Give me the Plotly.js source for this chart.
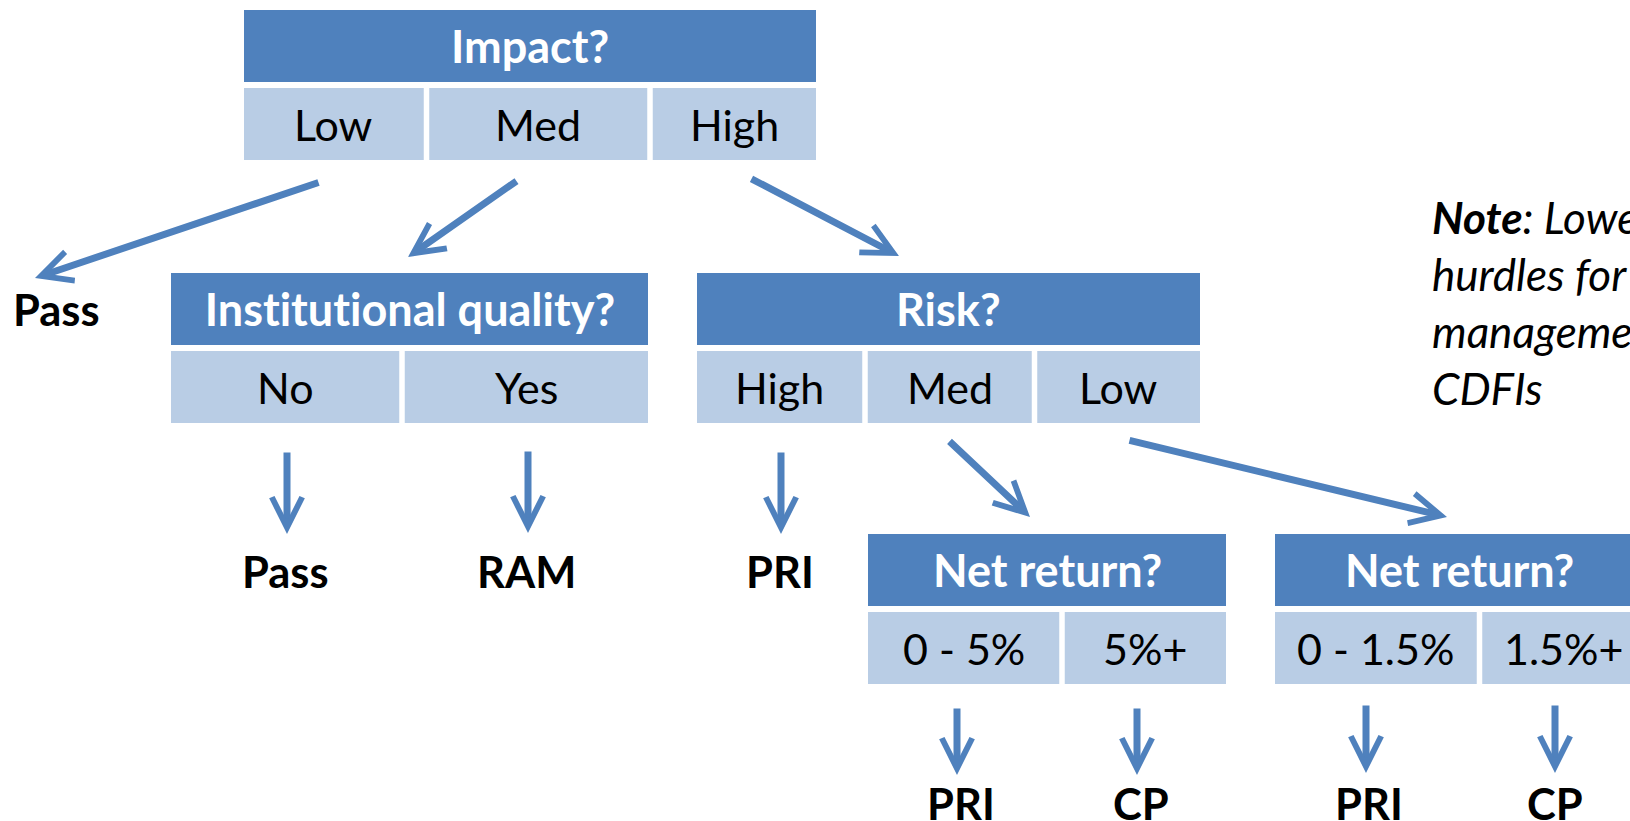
<!DOCTYPE html>
<html><head><meta charset="utf-8">
<script src="https://cdn.plot.ly/plotly-3.0.1.min.js"></script>
<style>
html,body{margin:0;padding:0;background:#fff;overflow:hidden}
.main-svg text{font-variant-ligatures:none;font-feature-settings:"liga" 0,"clig" 0;}
</style>
</head><body><div id="chart" style="width:1630px;height:821px"></div>
<script>
// ---------- content ----------
const questions = ['Impact?', 'Institutional quality?', 'Risk?', 'Net return?', 'Net return?'];
const answers = [['Low', 'Med', 'High'], ['No', 'Yes'], ['High', 'Med', 'Low'], ['0 - 5%', '5%+'], ['0 - 1.5%', '1.5%+']];
const outcomes = ['Pass', 'Pass', 'RAM', 'PRI', 'PRI', 'CP', 'PRI', 'CP'];
const noteLines = ['<b><i>Note</i></b><i>: Lower</i>', '<i>hurdles for</i>', '<i>management</i>', '<i>CDFIs</i>'];

// ---------- diagram geometry (pixel space) ----------
const W = 1630, H = 821;
const nodeGeom = [
  {top: 10,  edges: [244, 426.5, 650, 816]},
  {top: 273, edges: [171, 402, 648]},
  {top: 273, edges: [697, 865, 1034.5, 1200]},
  {top: 534, edges: [868, 1062, 1226]},
  {top: 534, edges: [1275, 1479.5, 1644]}
];
const outcomePos = [[56.5, 309], [285, 571], [526, 571], [779.5, 571], [961, 803], [1141, 803], [1369, 803], [1555, 803]];
const arrowGeom = [
  [320, 182, 35, 278], [518, 180, 408, 257], [750, 178, 899, 256],
  [287, 451, 287, 534], [528, 450, 528, 533], [781, 451, 781, 534],
  [948, 440, 1030, 517], [1128, 440, 1447, 517],
  [957, 707, 957, 775], [1137, 707, 1137, 775], [1366, 704, 1366, 773], [1555, 704, 1555, 773]
];
const noteX = 1430, noteBaselines = [233, 290, 347, 404];

const DARK = '#4F81BD', LIGHT = '#B9CDE5';
const HEAD_H = 72, GAP = 6, CELL_GAP = 5.5;
const FONT = 'Lato, "Open Sans", sans-serif';

const shapes = [];
const annotations = [];

questions.forEach((q, i) => {
  const g = nodeGeom[i];
  const e = g.edges;
  const x0 = e[0], x1 = e[e.length - 1];
  shapes.push({type: 'rect', xref: 'x', yref: 'y', x0: x0, x1: x1, y0: g.top, y1: g.top + HEAD_H,
    fillcolor: DARK, line: {width: 0}, layer: 'above'});
  annotations.push({xref: 'x', yref: 'y', x: (x0 + x1) / 2, y: g.top + HEAD_H / 2, text: q,
    showarrow: false, xanchor: 'center', yanchor: 'middle',
    font: {family: FONT, size: 45, color: '#FFFFFF', weight: 700}});
  const n = answers[i].length;
  answers[i].forEach((a, j) => {
    const cx0 = e[j] + (j > 0 ? CELL_GAP / 2 : 0);
    const cx1 = e[j + 1] - (j < n - 1 ? CELL_GAP / 2 : 0);
    const cy0 = g.top + HEAD_H + GAP, cy1 = cy0 + HEAD_H;
    shapes.push({type: 'rect', xref: 'x', yref: 'y', x0: cx0, x1: cx1, y0: cy0, y1: cy1,
      fillcolor: LIGHT, line: {width: 0}, layer: 'above'});
    annotations.push({xref: 'x', yref: 'y', x: (cx0 + cx1) / 2, y: (cy0 + cy1) / 2, text: a,
      showarrow: false, xanchor: 'center', yanchor: 'middle',
      font: {family: FONT, size: 43, color: '#000000'}});
  });
});

outcomes.forEach((o, i) => {
  annotations.push({xref: 'x', yref: 'y', x: outcomePos[i][0], y: outcomePos[i][1], text: o,
    showarrow: false, xanchor: 'center', yanchor: 'middle',
    font: {family: FONT, size: 43.5, color: '#000000', weight: 700}});
});

arrowGeom.forEach(a => {
  annotations.push({xref: 'x', yref: 'y', axref: 'x', ayref: 'y',
    x: a[2], y: a[3], ax: a[0], ay: a[1], text: '', font: {size: 1},
    showarrow: true, arrowhead: 5, arrowsize: 0.85, arrowwidth: 7, arrowcolor: DARK,
    standoff: 0, startstandoff: 0});
});

noteLines.forEach((t, i) => {
  annotations.push({xref: 'x', yref: 'y', x: noteX, y: noteBaselines[i] - 16, text: t,
    showarrow: false, xanchor: 'left', yanchor: 'middle',
    font: {family: FONT, size: 44, color: '#000000'}});
});

const layout = {
  width: W, height: H,
  margin: {l: 0, r: 0, t: 0, b: 0, pad: 0},
  paper_bgcolor: '#FFFFFF', plot_bgcolor: '#FFFFFF',
  xaxis: {range: [0, W], visible: false, fixedrange: true},
  yaxis: {range: [H, 0], visible: false, fixedrange: true},
  showlegend: false,
  shapes: shapes,
  annotations: annotations
};

Plotly.newPlot('chart', [{x: [], y: [], type: 'scatter', mode: 'markers', hoverinfo: 'skip'}], layout,
  {displayModeBar: false, staticPlot: true});
</script>
</body></html>
